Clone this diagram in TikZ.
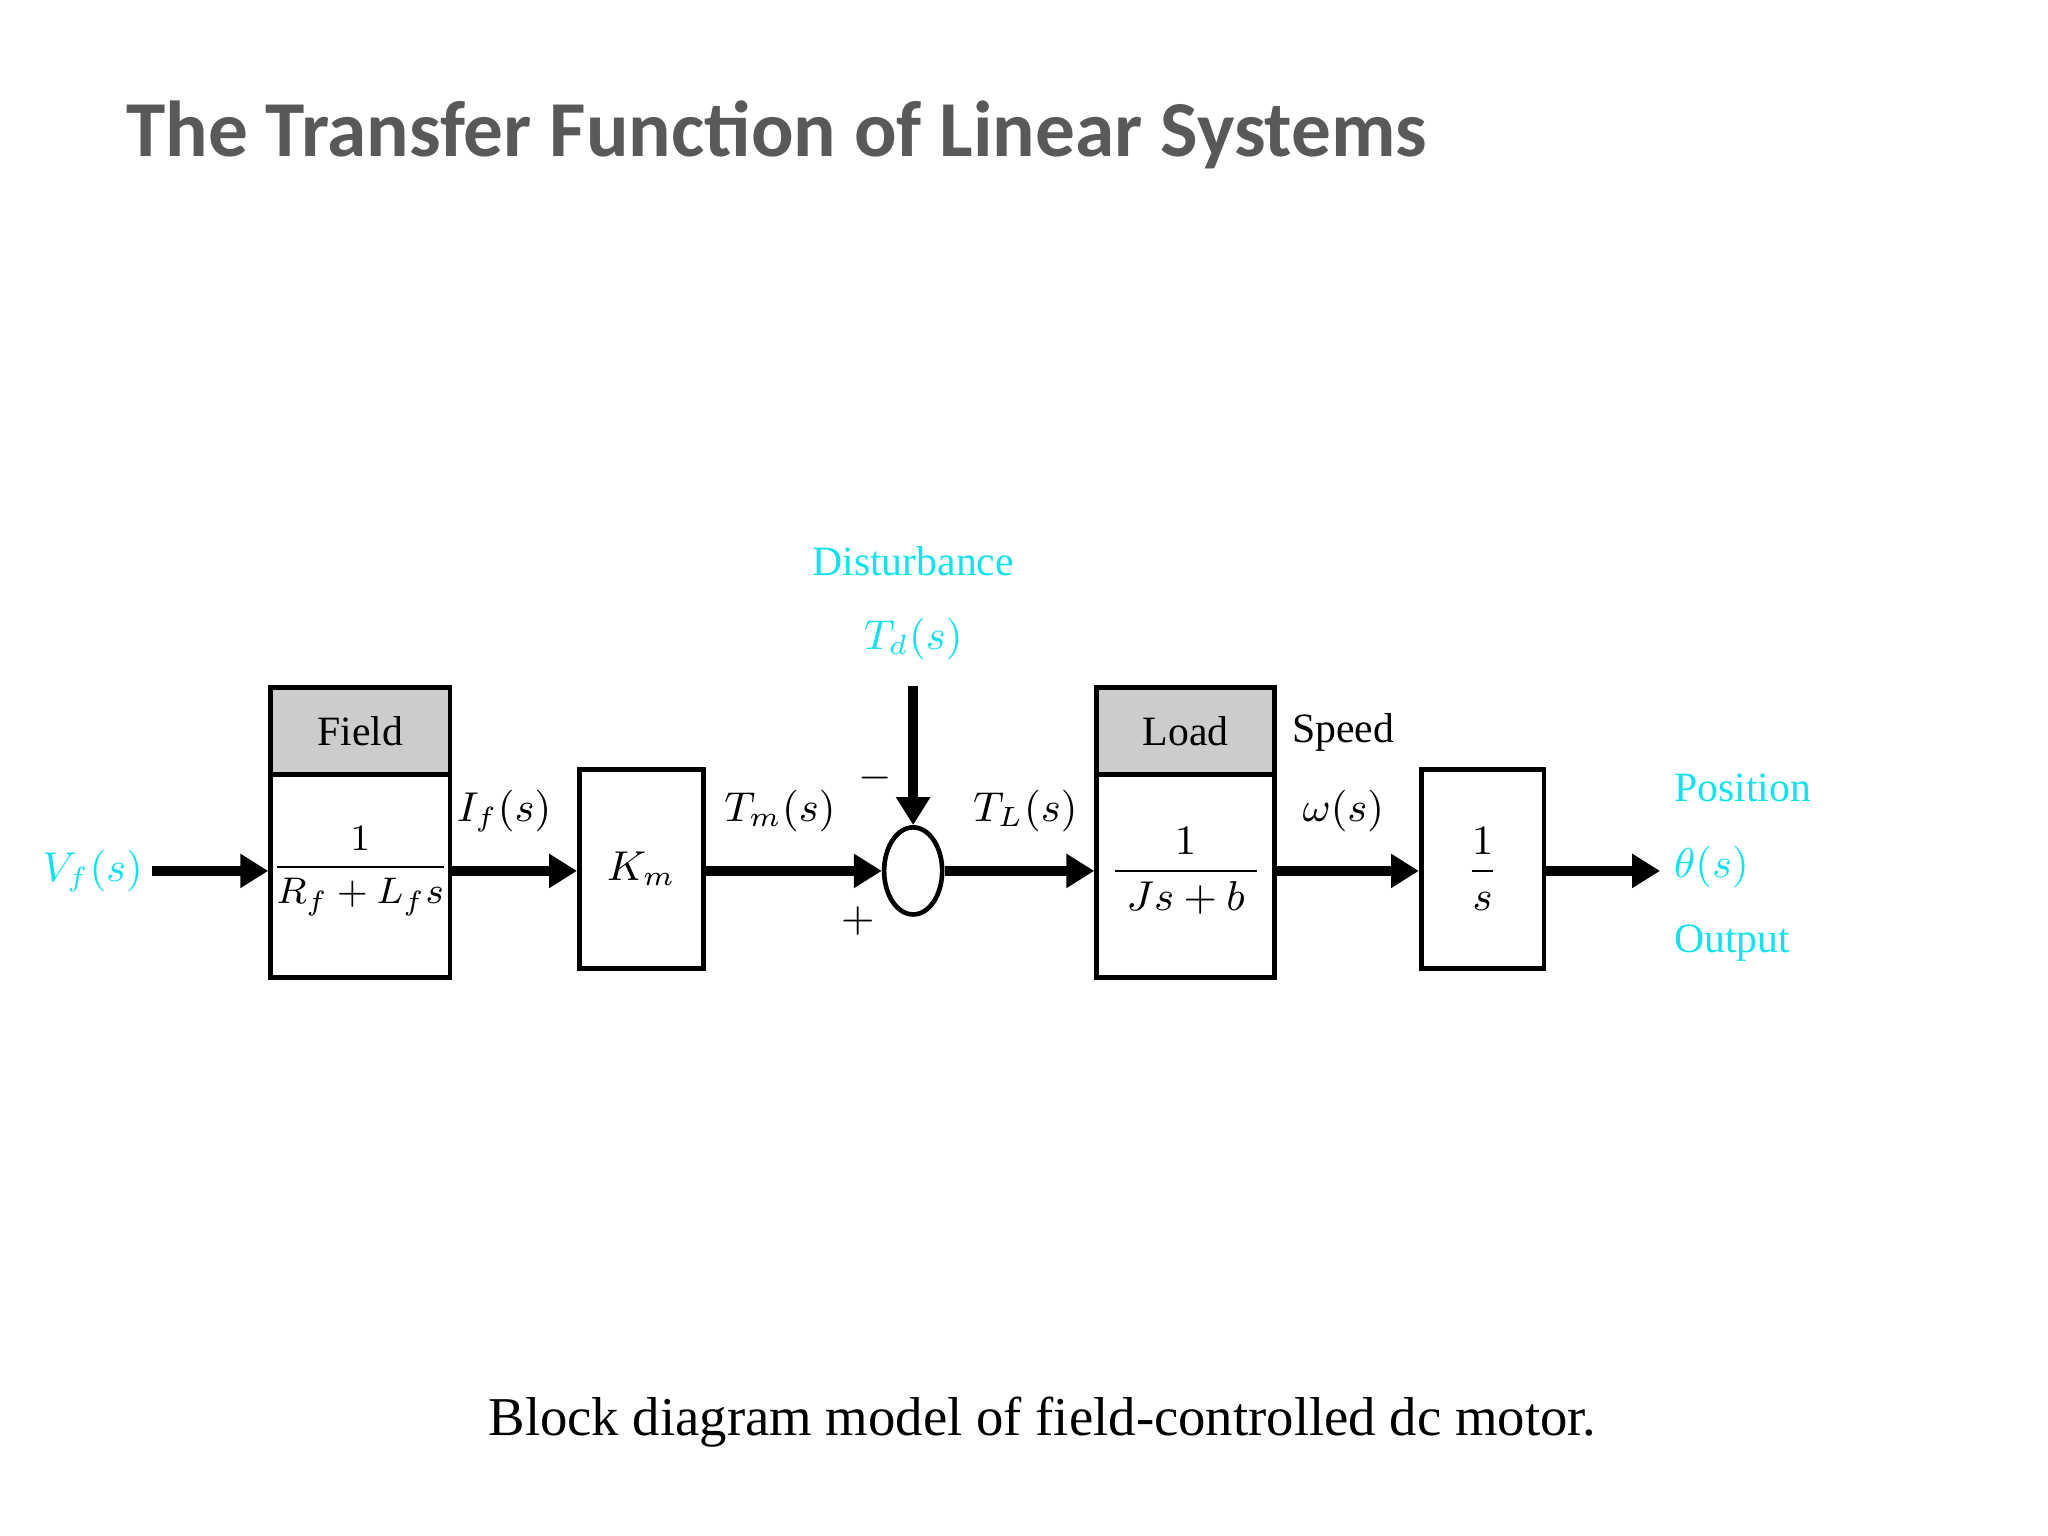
\documentclass[tikz,border=0pt]{standalone}
\usepackage{fontspec}
\setmainfont{Liberation Serif}
\newfontfamily\titlefont{Carlito}
\usetikzlibrary{arrows.meta,shapes.geometric}
\definecolor{cyanT}{RGB}{20,225,235}
\definecolor{titlegray}{RGB}{89,89,89}
\begin{document}
\begin{tikzpicture}[
  blk/.style={draw,line width=1pt,inner sep=0pt},
  hdr/.style={draw,line width=1pt,fill=gray!40,inner sep=0pt},
  sig/.style={line width=2.2pt,-{Triangle[length=6pt,width=7pt]}},
  lab/.style={font=\fontsize{9}{11}\selectfont,inner sep=0pt},
  clab/.style={lab,text=cyanT}
]
\useasboundingbox (0,0) rectangle (15.52,-11.64);
\node[anchor=west,text=titlegray,font=\titlefont\bfseries\fontsize{17.1}{20}\selectfont,inner sep=0pt] (title) at (0.95,-1.02) {The Transfer Function of Linear Systems};
% blocks
\node[hdr,minimum width=1.36cm,minimum height=0.66cm] (fh) at (2.73,-5.54) {};
\node[lab] (fht) at (fh) {Field};
\node[blk,minimum width=1.36cm,minimum height=1.54cm] (fb) at (2.73,-6.64) {};
\node[lab,font=\fontsize{8}{10}\selectfont] (fbt) at (2.73,-6.60) {$\displaystyle\frac{1}{R_f+L_f s}$};
\node[blk,minimum width=0.94cm,minimum height=1.51cm] (km) at (4.86,-6.585) {};
\node[lab] (kmt) at (km) {$K_m$};
\node[draw,ellipse,line width=1pt,minimum width=0.44cm,minimum height=0.66cm,inner sep=0pt] (sum) at (6.92,-6.60) {};
\node[hdr,minimum width=1.35cm,minimum height=0.66cm] (lh) at (8.985,-5.54) {};
\node[lab] (lht) at (lh) {Load};
\node[blk,minimum width=1.35cm,minimum height=1.54cm] (lb) at (8.985,-6.64) {};
\node[lab] (lbt) at (8.985,-6.60) {$\displaystyle\frac{1}{\;Js+b\;}$};
\node[blk,minimum width=0.93cm,minimum height=1.51cm] (ig) at (11.235,-6.585) {};
\node[lab] (igt) at (ig) {$\displaystyle\frac{1}{s}$};
% signals
\coordinate (in) at (1.15,-6.60);
\coordinate (out) at (12.58,-6.60);
\coordinate (dtop) at (6.92,-5.20);
\draw[sig] (in) -- (fb.west|-in);
\draw[sig] (fb.east|-in) -- (km.west|-in);
\draw[sig] (km.east|-in) -- (sum.west);
\draw[sig] (sum.east) -- (lb.west|-in);
\draw[sig] (lb.east|-in) -- (ig.west|-in);
\draw[sig] (ig.east|-in) -- (out);
\draw[sig] (dtop) -- (sum.north);
% labels
\node[clab,anchor=east] (vf) at (1.09,-6.60) {$V_f(s)$};
\node[lab] (ifl) at (3.82,-6.15) {$I_f(s)$};
\node[lab] (tm) at (5.91,-6.15) {$T_m(s)$};
\node[lab] (tl) at (7.77,-6.15) {$T_L(s)$};
\node[lab] (spd) at (10.18,-5.55) {Speed};
\node[lab] (om) at (10.18,-6.15) {$\omega(s)$};
\node[lab] (mi) at (6.63,-5.90) {$-$};
\node[lab] (pl) at (6.50,-6.98) {$+$};
\node[clab] (dist) at (6.92,-4.25) {Disturbance};
\node[clab] (td) at (6.92,-4.84) {$T_d(s)$};
\node[clab,anchor=west] (pos) at (12.68,-5.97) {Position};
\node[clab,anchor=west] (th) at (12.68,-6.57) {$\theta(s)$};
\node[clab,anchor=west] (outp) at (12.68,-7.15) {Output};
\node[lab,font=\fontsize{11.8}{14}\selectfont] (cap) at (7.90,-10.78) {Block diagram model of field-controlled dc motor.};
\end{tikzpicture}
\end{document}
